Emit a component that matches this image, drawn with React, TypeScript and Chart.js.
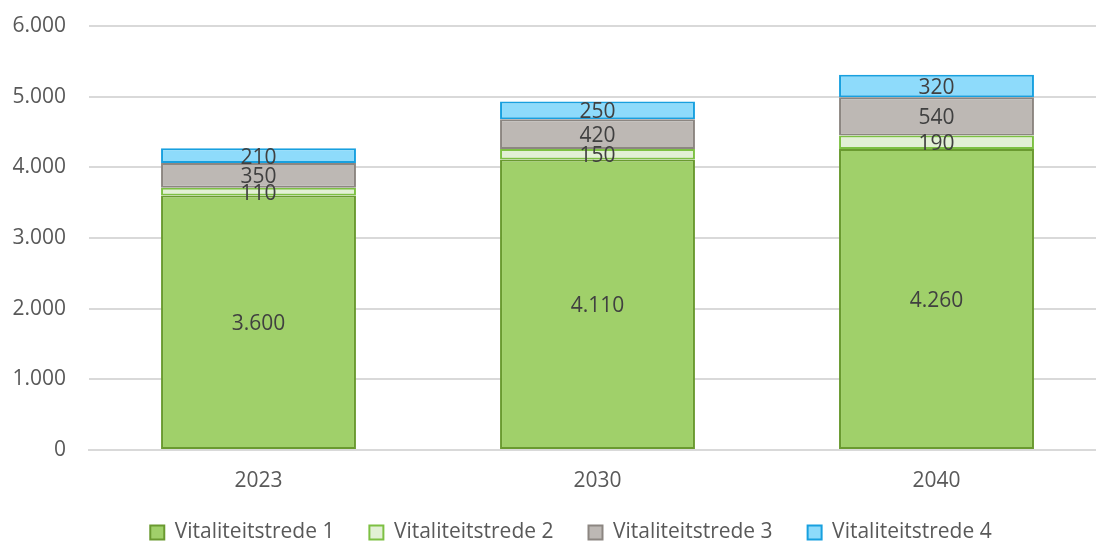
import React, { useEffect, useRef } from "react";
import { Chart, registerables } from "chart.js";

Chart.register(...registerables);

const categories = ["2023", "2030", "2040"];
const trede1 = [3600, 4110, 4260];
const trede2 = [110, 150, 190];
const trede3 = [350, 420, 540];
const trede4 = [210, 250, 320];
const seriesNames = ["Vitaliteitstrede 1", "Vitaliteitstrede 2", "Vitaliteitstrede 3", "Vitaliteitstrede 4"];
const yTicks = [0, 1000, 2000, 3000, 4000, 5000, 6000];

const FONT = "'Open Sans', sans-serif";
const CANVAS_W = 1110;
const CANVAS_H = 543;
const AXIS_Y = 450;
const LEGEND_H = 40;
const LEGEND_TOP = 487;
const LEGEND_DX = 18;

const fmt = (v: number) => v.toLocaleString("de-DE");

const labelPlugin = {
  id: "segLabels",
  afterDatasetsDraw(chart: any) {
    const ctx = chart.ctx;
    ctx.save();
    ctx.font = `21px ${FONT}`;
    ctx.fillStyle = "#404040";
    ctx.textAlign = "center";
    ctx.textBaseline = "middle";
    chart.data.datasets.forEach((ds: any, di: number) => {
      const meta = chart.getDatasetMeta(di);
      meta.data.forEach((bar: any, i: number) => {
        const v = ds.data[i];
        const y = (bar.y + bar.base) / 2;
        ctx.fillText(fmt(v), bar.x, y + 2);
      });
    });
    ctx.restore();
  },
};

const legendShift = {
  id: "legendShift",
  beforeLayout(chart: any) {
    const lg = chart.legend;
    if (lg && !lg.__patched) {
      lg.__patched = true;
      const origFit = lg.fit;
      lg.fit = function () {
        origFit.call(this);
        this.height = LEGEND_H;
      };
    }
  },
  afterLayout(chart: any) {
    const lg = chart.legend;
    if (!lg) return;
    lg.top = LEGEND_TOP;
    lg.bottom = CANVAS_H;
    lg.height = CANVAS_H - LEGEND_TOP;
    lg.left += LEGEND_DX;
    lg.right += LEGEND_DX;
  },
};

export default function App() {
  const ref = useRef<HTMLCanvasElement>(null);
  useEffect(() => {
    if (!ref.current) return;
    const mk = (label: string, data: number[], bg: string, border: string) => ({
      label,
      data,
      backgroundColor: bg,
      borderColor: border,
      borderWidth: 2,
      borderSkipped: false,
      categoryPercentage: 1,
      barPercentage: 0.575,
    });
    const chart = new Chart(ref.current, {
      type: "bar",
      data: {
        labels: categories,
        datasets: [
          mk(seriesNames[0], trede1, "#A0D06A", "#6A9A30"),
          mk(seriesNames[1], trede2, "#E2F0D5", "#7DC043"),
          mk(seriesNames[2], trede3, "#BDB8B4", "#8C8681"),
          mk(seriesNames[3], trede4, "#8EDBFB", "#18A0DF"),
        ],
      },
      options: {
        animation: false,
        responsive: false,
        maintainAspectRatio: false,
        layout: { padding: { top: 26, right: 4, left: 0, bottom: 0 } },
        plugins: {
          tooltip: { enabled: false },
          legend: {
            position: "bottom",
            labels: {
              font: { family: FONT, size: 21 },
              color: "#595959",
              boxWidth: 14,
              boxHeight: 14,
              padding: 35,
              generateLabels: (c: any) =>
                c.data.datasets.map((ds: any, i: number) => ({
                  text: ds.label,
                  fillStyle: ds.backgroundColor,
                  strokeStyle: ds.borderColor,
                  lineWidth: 2,
                  fontColor: "#595959",
                  datasetIndex: i,
                  hidden: false,
                })),
            },
          },
        },
        scales: {
          x: {
            stacked: true,
            grid: { display: false, drawTicks: false },
            border: { display: true, color: "#D9D9D9", width: 2 },
            ticks: { font: { family: FONT, size: 21 }, color: "#595959", padding: 18 },
            afterFit: (s: any) => {
              s.height = CANVAS_H - AXIS_Y - LEGEND_H;
              s.paddingLeft = 0;
              s.paddingRight = 0;
            },
          },
          y: {
            stacked: true,
            min: 0,
            max: 6000,
            afterBuildTicks: (s: any) => {
              s.ticks = yTicks.map((v) => ({ value: v }));
            },
            afterFit: (s: any) => {
              s.width = 89;
              s.paddingTop = 0;
              s.paddingBottom = 0;
            },
            grid: { color: "#D9D9D9", lineWidth: 2, drawTicks: false },
            border: { display: false },
            ticks: {
              font: { family: FONT, size: 21 },
              color: "#595959",
              padding: 23,
              callback: (v: any) => fmt(Number(v)),
            },
          },
        },
      },
      plugins: [labelPlugin, legendShift],
    });
    return () => chart.destroy();
  }, []);
  return (
    <div style={{ position: "fixed", left: 0, top: 0, width: 1096, height: 543, overflow: "hidden", background: "#fff" }}>
      <canvas ref={ref} width={CANVAS_W} height={CANVAS_H} style={{ width: CANVAS_W, height: CANVAS_H, display: "block" }} />
    </div>
  );
}
